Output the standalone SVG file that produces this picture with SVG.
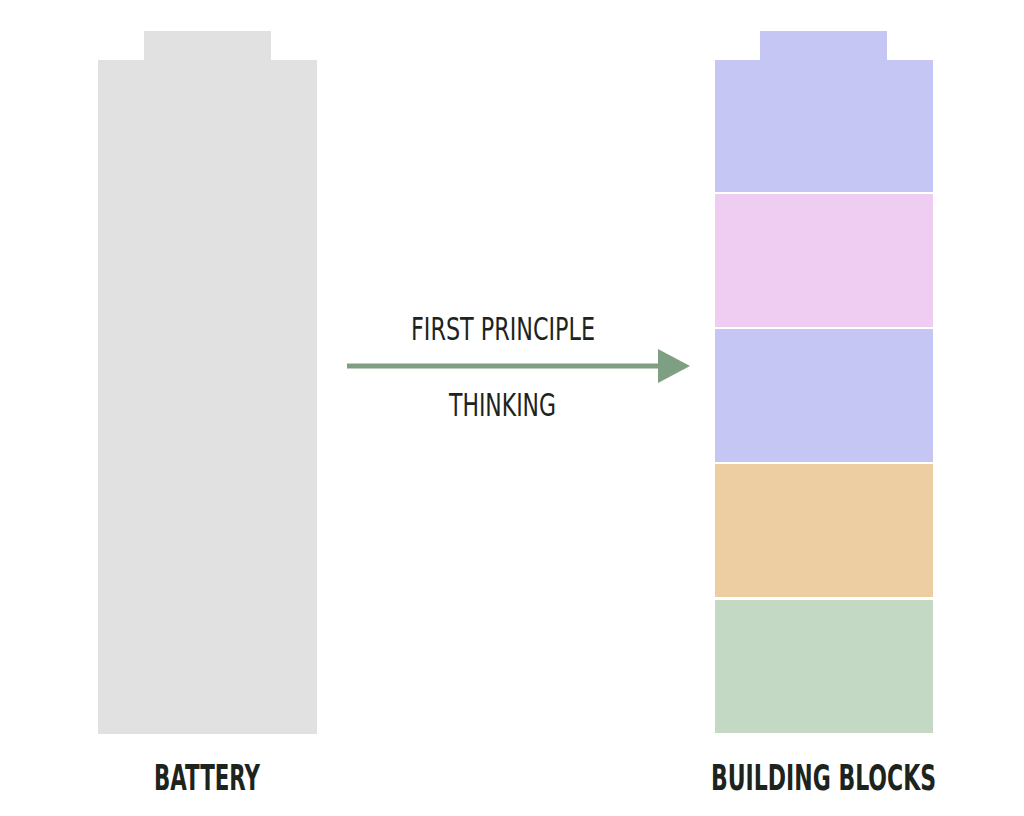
<svg xmlns="http://www.w3.org/2000/svg" width="1024" height="816" viewBox="0 0 1024 816">
<style>
.lbl{font-family:"DejaVu Sans Condensed","Liberation Sans",sans-serif;fill:#1c241d}
.mid{font-size:32px;font-weight:normal}
.big{font-size:36px;font-weight:bold}
</style>
<defs>
<marker id="ah" markerWidth="32" markerHeight="34" refX="0" refY="17" orient="auto" markerUnits="userSpaceOnUse">
<path d="M0,0 L32,17 L0,34 Z" fill="#7f9f83"/>
</marker>
</defs>
<rect width="1024" height="816" fill="#ffffff"/>
<g id="battery">
<rect x="144" y="31" width="127" height="30" fill="#e1e1e1"/>
<rect x="98" y="60" width="219" height="674" fill="#e1e1e1"/>
<text class="lbl big" text-anchor="middle" x="207" y="790" textLength="106" lengthAdjust="spacingAndGlyphs">BATTERY</text>
</g>
<g id="building-blocks">
<rect x="760" y="31" width="127" height="30" fill="#c5c6f3"/>
<rect x="715" y="60" width="218" height="132" fill="#c5c6f3"/>
<rect x="715" y="194" width="218" height="133" fill="#efcdf3"/>
<rect x="715" y="329" width="218" height="133" fill="#c5c6f3"/>
<rect x="715" y="464" width="218" height="133" fill="#edcea3"/>
<rect x="715" y="600" width="218" height="133" fill="#c3d9c4"/>
<text class="lbl big" text-anchor="middle" transform="translate(823.5,790) scale(0.68,1)" x="0" y="0">BUILDING BLOCKS</text>
</g>
<g id="connectors">
<line x1="347" y1="366" x2="658" y2="366" stroke="#7f9f83" stroke-width="5" marker-end="url(#ah)"/>
<text class="lbl mid" text-anchor="middle" x="503" y="340" textLength="184" lengthAdjust="spacingAndGlyphs">FIRST PRINCIPLE</text>
<text class="lbl mid" text-anchor="middle" x="502.5" y="416" textLength="107" lengthAdjust="spacingAndGlyphs">THINKING</text>
</g>
</svg>
